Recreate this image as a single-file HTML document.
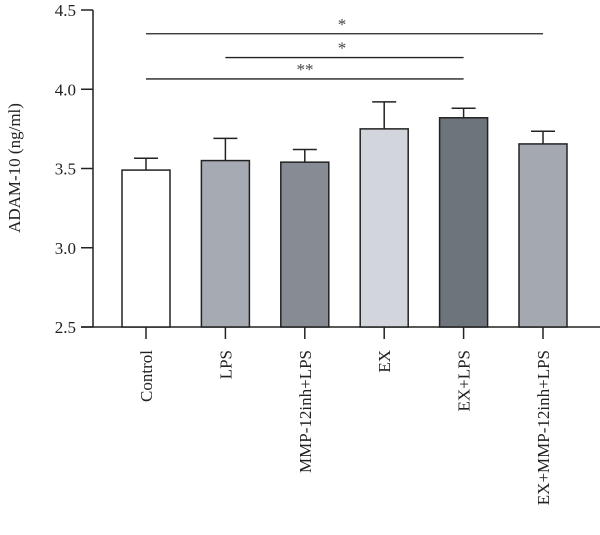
<!DOCTYPE html>
<html><head><meta charset="utf-8"><style>
html,body{margin:0;padding:0;background:#fff;}
svg{display:block;font-family:"Liberation Serif",serif;}
</style></head><body>
<svg width="600" height="535" viewBox="0 0 600 535">
<g id="plot"></g>
</svg>
<script>
const categories=["Control","LPS","MMP-12inh+LPS","EX","EX+LPS","EX+MMP-12inh+LPS"];
const means=[3.49,3.55,3.54,3.75,3.82,3.655];
const errors=[0.075,0.14,0.08,0.17,0.06,0.08];
const colors=["#ffffff","#a5aab3","#878c94","#d2d5db","#6e747b","#a3a8b1"];
const yTicks=[2.5,3.0,3.5,4.0,4.5];
const yTickLabels=["2.5","3.0","3.5","4.0","4.5"];
const sigFrom=[0,1,0];
const sigTo=[5,4,4];
const sigLabels=["*","*","**"];
const sigLevel=[4.35,4.2,4.065];

const NS="http://www.w3.org/2000/svg";
const g=document.getElementById('plot');
const x0=93,xStart=146,step=79.4,bw=48;
const yMin=2.5,yMax=4.5,yTop=10,yBot=327;
function y(v){return yBot-(v-yMin)/(yMax-yMin)*(yBot-yTop);}
function x(i){return xStart+i*step;}
function el(t,a){const e=document.createElementNS(NS,t);for(const k in a)e.setAttribute(k,a[k]);g.appendChild(e);return e;}

// axes
let ya=el('line',{x1:x0,y1:yTop,x2:x0,y2:yBot,stroke:'#222','stroke-width':1.5});


let xa=el('line',{x1:x0-12,y1:yBot,x2:600,y2:yBot,stroke:'#222','stroke-width':1.5});



yTicks.forEach((v,i)=>{
  let t=el('line',{x1:x0-12,y1:y(v),x2:x0,y2:y(v),stroke:'#222','stroke-width':1.5});
  
  
  let l=el('text',{x:x0-17,y:y(v)+6,'text-anchor':'end','font-size':17,fill:'#222'});
  l.textContent=yTickLabels[i];
  
  
});

let yt=el('text',{x:0,y:0,'text-anchor':'middle','font-size':17,fill:'#222',transform:'translate(20,168) rotate(-90)'});
yt.textContent='ADAM-10 (ng/ml)';



categories.forEach((c,i)=>{
  const cx=x(i);
  let eb=el('line',{x1:cx,y1:y(means[i]),x2:cx,y2:y(means[i]+errors[i]),stroke:'#222','stroke-width':1.5});
  
  
  let cap=el('line',{x1:cx-12,y1:y(means[i]+errors[i]),x2:cx+12,y2:y(means[i]+errors[i]),stroke:'#222','stroke-width':1.5});
  
  
  let r=el('rect',{x:cx-bw/2,y:y(means[i]),width:bw,height:yBot-y(means[i]),fill:colors[i],stroke:'#222','stroke-width':1.5});
  
  
  let tk=el('line',{x1:cx,y1:yBot,x2:cx,y2:yBot+12,stroke:'#222','stroke-width':1.5});
  
  
  let l=el('text',{x:0,y:0,'text-anchor':'end','font-size':17,fill:'#222',transform:`translate(${cx+6},350) rotate(-90)`});
  l.textContent=c;
  
  
});

sigLabels.forEach((s,i)=>{
  const yy=y(sigLevel[i]);
  let ln=el('line',{x1:x(sigFrom[i]),y1:yy,x2:x(sigTo[i]),y2:yy,stroke:'#222','stroke-width':1.3});
  
  
  let t=el('text',{x:(i==2?305:342),y:yy-4,'text-anchor':'middle','font-size':17,fill:'#444'});
  t.textContent=s;
  
  
});
</script>
</body></html>
